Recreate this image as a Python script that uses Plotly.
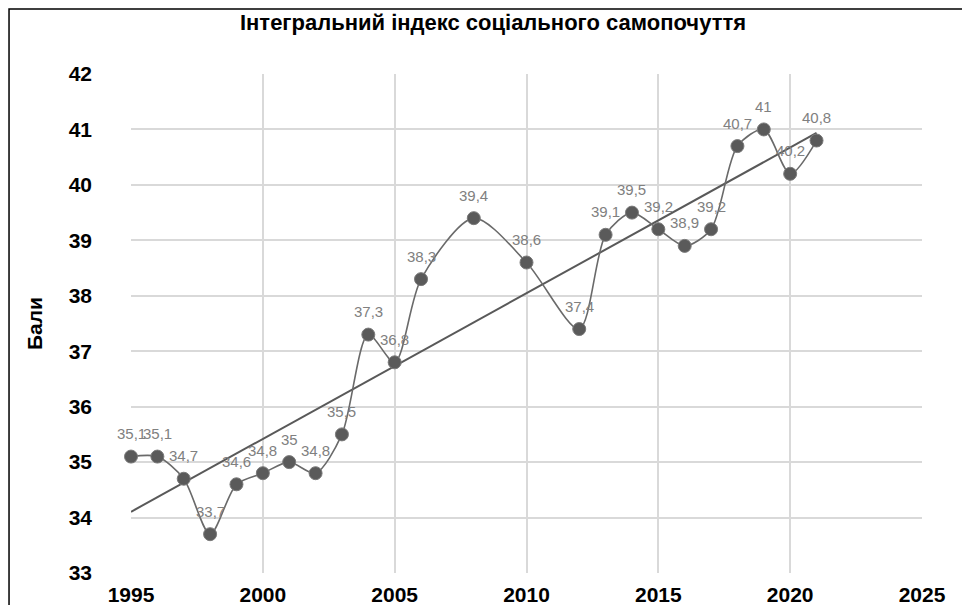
import numpy as np
import plotly.graph_objects as go

years = [1995, 1996, 1997, 1998, 1999, 2000, 2001, 2002, 2003, 2004, 2005, 2006,
         2008, 2010, 2012, 2013, 2014, 2015, 2016, 2017, 2018, 2019, 2020, 2021]
values = [35.1, 35.1, 34.7, 33.7, 34.6, 34.8, 35.0, 34.8, 35.5, 37.3, 36.8, 38.3,
          39.4, 38.6, 37.4, 39.1, 39.5, 39.2, 38.9, 39.2, 40.7, 41.0, 40.2, 40.8]
x_ticks = [1995, 2000, 2005, 2010, 2015, 2020, 2025]
y_ticks = [33, 34, 35, 36, 37, 38, 39, 40, 41, 42]
title_text = "Інтегральний індекс соціального самопочуття"
y_title = "Бали"

labels = [("%g" % v).replace(".", ",") for v in values]

# linear trendline (least squares) like Excel
coef = np.polyfit(years, values, 1)
trend_x = [years[0], years[-1]]
trend_y = [float(np.polyval(coef, x)) for x in trend_x]

fig = go.Figure()
fig.add_trace(go.Scatter(
    x=trend_x, y=trend_y, mode="lines",
    line=dict(color="#595959", width=2), hoverinfo="skip", showlegend=False))
fig.add_trace(go.Scatter(
    x=years, y=values, mode="lines+markers",
    line=dict(color="#6a6a6a", width=1.6, shape="spline", smoothing=0.8),
    marker=dict(color="#5a5a5a", size=13, line=dict(color="#7a7a7a", width=1)),
    showlegend=False, cliponaxis=False))

for xv, yv, lab in zip(years, values, labels):
    fig.add_annotation(x=xv, y=yv, text=lab, showarrow=False, yshift=23,
                       font=dict(family="Liberation Sans, Arial", size=15,
                                 color="#808080"))

fig.update_layout(
    width=970, height=605,
    paper_bgcolor="white", plot_bgcolor="white",
    margin=dict(l=123, r=56, t=66, b=40),
    title=dict(text="<b>" + title_text + "</b>", x=0.5, xanchor="center",
               y=0.977, yanchor="middle",
               font=dict(family="Liberation Sans, Arial", size=22, color="black")),
    font=dict(family="Liberation Sans, Arial"),
)
fig.update_xaxes(
    range=[1995, 2025], tickvals=x_ticks,
    ticktext=["<b>%d</b>" % t for t in x_ticks],
    tickfont=dict(size=21, color="black"),
    showgrid=True, gridcolor="#d9d9d9", gridwidth=1.5, automargin=False,
    zeroline=False, showline=False, ticks="", ticklabelstandoff=7)
fig.update_yaxes(
    range=[33, 42], tickvals=y_ticks,
    ticktext=["<b>%d</b>" % t for t in y_ticks],
    tickfont=dict(size=21, color="black"),
    showgrid=True, gridcolor="#d9d9d9", gridwidth=1.5, automargin=False,
    zeroline=False, showline=False, ticks="", ticklabelstandoff=38,
    title=dict(text="<b>" + y_title + "</b>", font=dict(size=21, color="black"),
               standoff=20))

# outer chart frame (top/left edges visible)
fig.add_shape(type="rect", xref="paper", yref="paper",
              x0=-0.1542, x1=1.3, y0=-0.3, y1=1.1303,
              line=dict(color="black", width=1.5), layer="below")

fig.write_html("out.html")
